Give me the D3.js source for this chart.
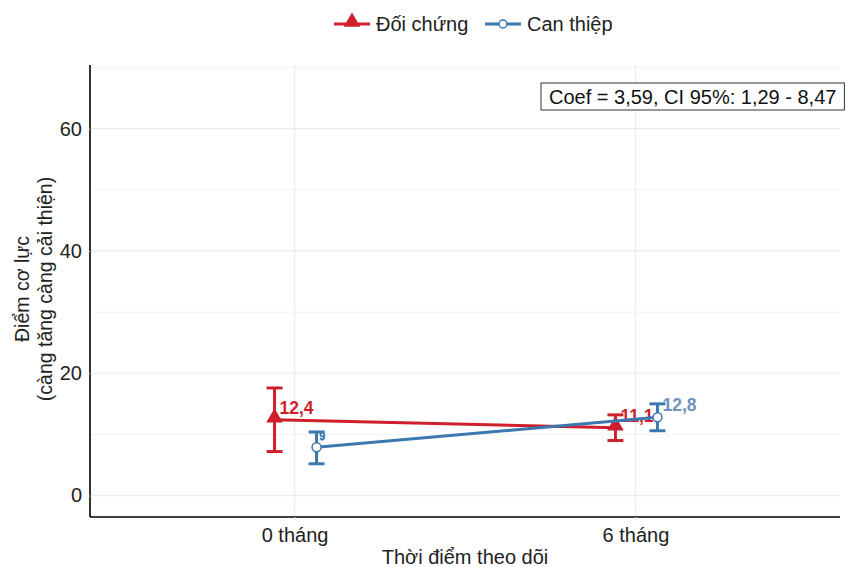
<!DOCTYPE html>
<html>
<head>
<meta charset="utf-8">
<script src="https://cdn.jsdelivr.net/npm/d3@7"></script>
<style>
  body { margin: 0; background: #fff; }
  text { font-family: "Liberation Sans", Arial, sans-serif; }
</style>
</head>
<body>
<svg id="chart" width="847" height="567"></svg>
<script>

// Data
const timepoints = ["0 tháng", "6 tháng"];
const groups = ["Đối chứng", "Can thiệp"];
const controlMean = [12.4, 11.1];
const controlLow = [7.2, 9.0];
const controlHigh = [17.6, 13.2];
const interventionMean = [7.9, 12.8];
const interventionLow = [5.2, 10.6];
const interventionHigh = [10.4, 15.0];
const yTicks = [0, 20, 40, 60];
const yMinorTicks = [10, 30, 50, 70];
const annotation = "Coef = 3,59, CI 95%: 1,29 - 8,47";

const colours = {"Đối chứng": "#cf1f2d", "Can thiệp": "#3b78b0"};
const labelColours = {"Đối chứng": "#cf1f2d", "Can thiệp": "#6f93ba"};
const dodge = {"Đối chứng": -20, "Can thiệp": 22};

const series = [
    {group: groups[0], mean: controlMean, low: controlLow, high: controlHigh},
    {group: groups[1], mean: interventionMean, low: interventionLow, high: interventionHigh}
];

const margin = {left: 90, right: 7, top: 65, bottom: 50};
const width = 847, height = 567;
const svg = d3.select("#chart");

// Scales
const x = d3.scalePoint()
    .domain(timepoints)
    .range([margin.left, width - margin.right])
    .padding(0.6);
const y = d3.scaleLinear()
    .domain([-3.5, 70.4])
    .range([height - margin.bottom, margin.top]);

// Grid
const grid = svg.append("g");
grid.selectAll(".minor").data(yMinorTicks).enter().append("line")
    .attr("x1", margin.left).attr("x2", width - margin.right)
    .attr("y1", d => y(d)).attr("y2", d => y(d))
    .style("stroke", "#f2f2f2").style("stroke-width", 1);
grid.selectAll(".major").data(yTicks).enter().append("line")
    .attr("x1", margin.left).attr("x2", width - margin.right)
    .attr("y1", d => y(d)).attr("y2", d => y(d))
    .style("stroke", "#ebebeb").style("stroke-width", 1.2);
grid.selectAll(".vert").data(timepoints).enter().append("line")
    .attr("x1", d => x(d)).attr("x2", d => x(d))
    .attr("y1", margin.top).attr("y2", height - margin.bottom)
    .style("stroke", "#ebebeb").style("stroke-width", 1.2);

// Axes
const yAxis = svg.append("g")
    .attr("transform", `translate(${margin.left},0)`)
    .call(d3.axisLeft(y).tickValues(yTicks).tickSize(3).tickPadding(5));
const xAxis = svg.append("g")
    .attr("transform", `translate(0,${height - margin.bottom})`)
    .call(d3.axisBottom(x).tickSize(3).tickPadding(8));
[yAxis, xAxis].forEach(a => {
    a.select(".domain").style("stroke", "#000").style("stroke-width", 1.6);
    a.selectAll(".tick line").style("stroke", "#e0e0e0");
    a.selectAll(".tick text").style("font-size", "20px").style("fill", "#222")
        .style("font-family", "Liberation Sans, Arial, sans-serif");
});
xAxis.select(".domain").attr("d", `M${margin.left},0H${width - margin.right}`);
yAxis.select(".domain").attr("d", `M0,${margin.top}V${height - margin.bottom}`);

// Axis titles
svg.append("text")
    .attr("x", 465).attr("y", 564)
    .attr("text-anchor", "middle")
    .style("font-size", "20px").style("fill", "#222")
    .text("Thời điểm theo dõi");
const yTitle = svg.append("text")
    .attr("transform", `translate(29, ${(margin.top + height - margin.bottom) / 2 - 2}) rotate(-90)`)
    .attr("text-anchor", "middle")
    .style("font-size", "19.5px").style("fill", "#222");
yTitle.append("tspan").attr("x", 0).attr("dy", 0).text("Điểm cơ lực");
yTitle.append("tspan").attr("x", 0).attr("dy", 23).text("(càng tăng càng cải thiện)");

// Lines, error bars, markers
const line = d3.line();
series.forEach(s => {
    const c = colours[s.group];
    const off = dodge[s.group];
    const pts = timepoints.map((t, i) => [x(t) + off, y(s.mean[i])]);
    const g = svg.append("g");
    g.append("path")
        .attr("d", line(pts))
        .style("fill", "none").style("stroke", c).style("stroke-width", 3);
    timepoints.forEach((t, i) => {
        const cx = x(t) + off;
        g.append("line")
            .attr("x1", cx).attr("x2", cx)
            .attr("y1", y(s.low[i])).attr("y2", y(s.high[i]))
            .style("stroke", c).style("stroke-width", 3);
        [s.low[i], s.high[i]].forEach(v => {
            g.append("line")
                .attr("x1", cx - 8).attr("x2", cx + 8)
                .attr("y1", y(v)).attr("y2", y(v))
                .style("stroke", c).style("stroke-width", 3);
        });
    });
    pts.forEach(p => {
        if (s.group === groups[0]) {
            g.append("path")
                .attr("d", d3.symbol(d3.symbolTriangle, 120)())
                .attr("transform", `translate(${p[0]},${p[1] - 2})`)
                .style("fill", c);
        } else {
            g.append("circle")
                .attr("cx", p[0]).attr("cy", p[1]).attr("r", 4.5)
                .style("fill", "#fff").style("stroke", c).style("stroke-width", 1.5);
        }
    });
    // value labels
    pts.forEach((p, i) => {
        const txt = d3.format(".1f")(s.mean[i]).replace(".", ",");
        if (s.group === groups[1] && i === 0) {
            // label mostly hidden in the original
            g.append("text")
                .attr("x", p[0] + 3).attr("y", p[1] - 7)
                .style("font-size", "10px").style("fill", "#fff")
                .style("stroke", c).style("stroke-width", 0.9)
                .text(txt.slice(-1));
            return;
        }
        g.append("text")
            .attr("x", p[0] + 5).attr("y", p[1] - 6)
            .style("font-size", "17.5px").style("font-weight", "bold")
            .style("fill", labelColours[s.group])
            .text(txt);
    });
});

// Annotation
const ann = svg.append("g");
const annText = ann.append("text")
    .attr("x", 549).attr("y", 104)
    .style("font-size", "20px").style("fill", "#111")
    .text(annotation);
const bb = annText.node().getBBox();
ann.insert("rect", "text")
    .attr("x", 541).attr("y", 83)
    .attr("width", bb.width + 16).attr("height", 27)
    .style("fill", "#fff").style("stroke", "#333").style("stroke-width", 1);

// Legend
const legend = svg.append("g");
const legendX = [334, 485];
groups.forEach((gname, i) => {
    const lg = legend.append("g").attr("transform", `translate(${legendX[i]}, 24)`);
    lg.append("line").attr("x1", 0).attr("x2", 36).attr("y1", 0).attr("y2", 0)
        .style("stroke", colours[gname]).style("stroke-width", 3);
    if (i === 0) {
        lg.append("path").attr("d", d3.symbol(d3.symbolTriangle, 120)())
            .attr("transform", "translate(18,-2)").style("fill", colours[gname]);
    } else {
        lg.append("circle").attr("cx", 18).attr("cy", 0).attr("r", 4)
            .style("fill", "#fff").style("stroke", colours[gname]).style("stroke-width", 1.5);
    }
    lg.append("text").attr("x", 42).attr("y", 7)
        .style("font-size", "20px").style("fill", "#222").text(gname);
});
</script>
</body>
</html>
